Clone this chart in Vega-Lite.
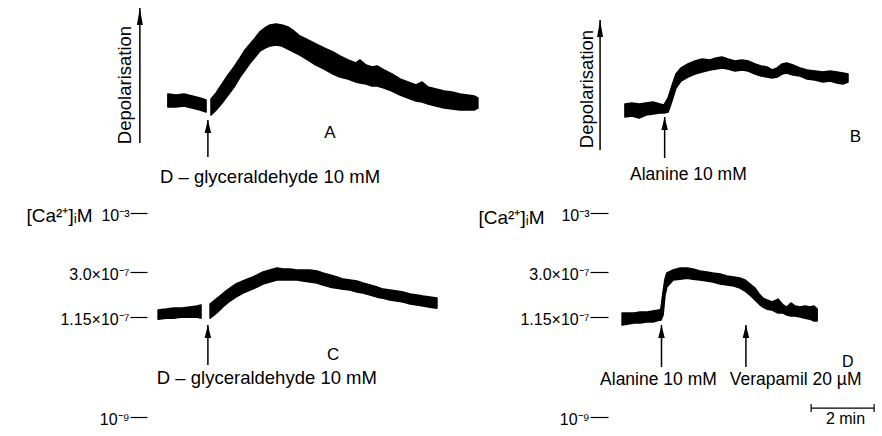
{
  "$schema": "https://vega.github.io/schema/vega-lite/v6.json",
  "padding": 0,
  "spacing": 0,
  "bounds": "flush",
  "columns": 2,
  "config": {
    "view": {"stroke": null},
    "font": "Liberation Sans",
    "text": {"font": "Liberation Sans", "color": "black"},
    "concat": {"spacing": 0}
  },
  "concat": [
    {
      "width": 441,
      "height": 190,
      "layer": [
        {
          "data": {"values": [
            {"t": -1.27, "hi": 0.6, "lo": -0.7, "seg": "pre"},
            {"t": -1.01, "hi": 0.5, "lo": -0.7, "seg": "pre"},
            {"t": -0.76, "hi": 0.6, "lo": -0.6, "seg": "pre"},
            {"t": -0.50, "hi": 0.4, "lo": -0.8, "seg": "pre"},
            {"t": -0.25, "hi": 0.2, "lo": -1.0, "seg": "pre"},
            {"t": -0.06, "hi": 0.0, "lo": -1.2, "seg": "pre"},
            {"t": 0.10, "hi": 0.1, "lo": -1.5, "seg": "post"},
            {"t": 0.26, "hi": 0.7, "lo": -1.0, "seg": "post"},
            {"t": 0.45, "hi": 1.6, "lo": -0.3, "seg": "post"},
            {"t": 0.64, "hi": 2.5, "lo": 0.5, "seg": "post"},
            {"t": 0.83, "hi": 3.3, "lo": 1.3, "seg": "post"},
            {"t": 1.02, "hi": 4.2, "lo": 2.3, "seg": "post"},
            {"t": 1.18, "hi": 5.0, "lo": 3.0, "seg": "post"},
            {"t": 1.34, "hi": 5.6, "lo": 3.7, "seg": "post"},
            {"t": 1.50, "hi": 6.2, "lo": 4.3, "seg": "post"},
            {"t": 1.65, "hi": 6.8, "lo": 4.9, "seg": "post"},
            {"t": 1.81, "hi": 7.2, "lo": 5.2, "seg": "post"},
            {"t": 1.97, "hi": 7.5, "lo": 5.4, "seg": "post"},
            {"t": 2.16, "hi": 7.6, "lo": 5.5, "seg": "post"},
            {"t": 2.35, "hi": 7.5, "lo": 5.4, "seg": "post"},
            {"t": 2.54, "hi": 7.3, "lo": 5.1, "seg": "post"},
            {"t": 2.73, "hi": 6.9, "lo": 4.8, "seg": "post"},
            {"t": 2.92, "hi": 6.4, "lo": 4.5, "seg": "post"},
            {"t": 3.18, "hi": 6.0, "lo": 4.0, "seg": "post"},
            {"t": 3.43, "hi": 5.6, "lo": 3.5, "seg": "post"},
            {"t": 3.69, "hi": 5.2, "lo": 3.1, "seg": "post"},
            {"t": 3.97, "hi": 4.8, "lo": 2.6, "seg": "post"},
            {"t": 4.19, "hi": 4.4, "lo": 2.3, "seg": "post"},
            {"t": 4.45, "hi": 4.0, "lo": 2.1, "seg": "post"},
            {"t": 4.70, "hi": 3.7, "lo": 1.8, "seg": "post"},
            {"t": 4.83, "hi": 4.0, "lo": 1.7, "seg": "post"},
            {"t": 5.02, "hi": 3.5, "lo": 1.6, "seg": "post"},
            {"t": 5.21, "hi": 3.3, "lo": 1.4, "seg": "post"},
            {"t": 5.37, "hi": 3.4, "lo": 1.4, "seg": "post"},
            {"t": 5.59, "hi": 3.0, "lo": 1.2, "seg": "post"},
            {"t": 5.84, "hi": 2.6, "lo": 0.9, "seg": "post"},
            {"t": 6.10, "hi": 2.1, "lo": 0.5, "seg": "post"},
            {"t": 6.35, "hi": 1.8, "lo": 0.2, "seg": "post"},
            {"t": 6.61, "hi": 1.5, "lo": -0.1, "seg": "post"},
            {"t": 6.80, "hi": 1.8, "lo": -0.2, "seg": "post"},
            {"t": 6.99, "hi": 1.3, "lo": -0.4, "seg": "post"},
            {"t": 7.24, "hi": 1.1, "lo": -0.6, "seg": "post"},
            {"t": 7.50, "hi": 0.9, "lo": -0.8, "seg": "post"},
            {"t": 7.75, "hi": 0.8, "lo": -0.9, "seg": "post"},
            {"t": 8.00, "hi": 0.6, "lo": -1.0, "seg": "post"},
            {"t": 8.23, "hi": 0.5, "lo": -1.0, "seg": "post"},
            {"t": 8.45, "hi": 0.4, "lo": -1.0, "seg": "post"},
            {"t": 8.57, "hi": 0.2, "lo": -0.8, "seg": "post"}
          ]},
          "mark": {"type": "area", "color": "black", "stroke": "black", "strokeWidth": 1.6, "strokeJoin": "round"},
          "encoding": {
            "x": {"field": "t", "type": "quantitative", "scale": {"domain": [-6.6, 7.4], "nice": false, "zero": false}, "axis": null},
            "y": {"field": "hi", "type": "quantitative", "scale": {"domain": [-9, 10], "nice": false, "zero": false}, "axis": null},
            "y2": {"field": "lo"},
            "detail": {"field": "seg"}
          }
        },
        {
          "data": {"values": [{"t": 0}]},
          "mark": {"type": "rule", "color": "black", "strokeWidth": 1.5},
          "encoding": {
            "x": {"field": "t", "type": "quantitative", "axis": null},
            "y": {"datum": -5.7, "type": "quantitative", "axis": null},
            "y2": {"datum": -2.0}
          }
        },
        {
          "data": {"values": [{"t": 0}]},
          "mark": {"type": "point", "shape": "M0,-1L0.5,1L-0.5,1Z", "size": 169, "filled": true, "color": "black", "opacity": 1, "yOffset": 6.5},
          "encoding": {
            "x": {"field": "t", "type": "quantitative", "axis": null},
            "y": {"datum": -2.0, "type": "quantitative", "axis": null}
          }
        },
        {
          "data": {"values": [{}]},
          "mark": {"type": "rule", "color": "black", "strokeWidth": 1.5},
          "encoding": {
            "x": {"datum": -2.16, "type": "quantitative", "axis": null},
            "y": {"datum": -4.3, "type": "quantitative", "axis": null},
            "y2": {"datum": 9.2}
          }
        },
        {
          "data": {"values": [{}]},
          "mark": {"type": "point", "shape": "M0,-1L0.35,1L-0.35,1Z", "size": 289, "filled": true, "color": "black", "opacity": 1, "yOffset": 8.5},
          "encoding": {
            "x": {"datum": -2.16, "type": "quantitative", "axis": null},
            "y": {"datum": 9.2, "type": "quantitative", "axis": null}
          }
        },
        {
          "data": {"values": [{"t": -2.63, "v": 1.5, "label": "Depolarisation"}]},
          "mark": {"type": "text", "angle": 270, "fontSize": 18.5, "align": "center", "baseline": "middle"},
          "encoding": {
            "x": {"field": "t", "type": "quantitative", "axis": null},
            "y": {"field": "v", "type": "quantitative", "axis": null},
            "text": {"field": "label"}
          }
        },
        {
          "data": {"values": [{"t": -1.52, "v": -8.3, "label": "D – glyceraldehyde 10 mM"}]},
          "mark": {"type": "text", "fontSize": 18.5, "align": "left", "baseline": "alphabetic"},
          "encoding": {
            "x": {"field": "t", "type": "quantitative", "axis": null},
            "y": {"field": "v", "type": "quantitative", "axis": null},
            "text": {"field": "label"}
          }
        },
        {
          "data": {"values": [{"t": 3.69, "v": -3.8, "label": "A"}]},
          "mark": {"type": "text", "fontSize": 17, "align": "left", "baseline": "alphabetic"},
          "encoding": {
            "x": {"field": "t", "type": "quantitative", "axis": null},
            "y": {"field": "v", "type": "quantitative", "axis": null},
            "text": {"field": "label"}
          }
        }
      ]
    },
    {
      "width": 441,
      "height": 190,
      "layer": [
        {
          "data": {"values": [
            {"t": -1.26, "hi": -0.4, "lo": -1.7},
            {"t": -1.04, "hi": -0.3, "lo": -1.6},
            {"t": -0.81, "hi": -0.4, "lo": -1.8},
            {"t": -0.59, "hi": -0.3, "lo": -1.5},
            {"t": -0.37, "hi": -0.2, "lo": -1.4},
            {"t": -0.15, "hi": -0.4, "lo": -1.3},
            {"t": -0.02, "hi": -0.5, "lo": -1.3},
            {"t": 0.11, "hi": 0.2, "lo": -1.2},
            {"t": 0.23, "hi": 1.4, "lo": -0.1},
            {"t": 0.36, "hi": 2.6, "lo": 1.2},
            {"t": 0.52, "hi": 3.2, "lo": 1.9},
            {"t": 0.74, "hi": 3.6, "lo": 2.3},
            {"t": 0.96, "hi": 3.9, "lo": 2.6},
            {"t": 1.19, "hi": 4.1, "lo": 2.8},
            {"t": 1.44, "hi": 4.0, "lo": 3.0},
            {"t": 1.63, "hi": 4.2, "lo": 3.1},
            {"t": 1.82, "hi": 4.3, "lo": 3.2},
            {"t": 2.01, "hi": 4.1, "lo": 3.1},
            {"t": 2.23, "hi": 3.9, "lo": 2.9},
            {"t": 2.46, "hi": 4.0, "lo": 3.0},
            {"t": 2.65, "hi": 3.9, "lo": 2.9},
            {"t": 2.87, "hi": 3.6, "lo": 2.6},
            {"t": 3.06, "hi": 3.4, "lo": 2.4},
            {"t": 3.25, "hi": 3.3, "lo": 2.3},
            {"t": 3.41, "hi": 3.0, "lo": 2.2},
            {"t": 3.57, "hi": 3.2, "lo": 2.3},
            {"t": 3.73, "hi": 3.6, "lo": 2.6},
            {"t": 3.88, "hi": 3.7, "lo": 2.7},
            {"t": 4.07, "hi": 3.5, "lo": 2.5},
            {"t": 4.30, "hi": 3.2, "lo": 2.4},
            {"t": 4.52, "hi": 3.0, "lo": 2.1},
            {"t": 4.77, "hi": 2.9, "lo": 2.0},
            {"t": 5.03, "hi": 2.8, "lo": 1.8},
            {"t": 5.25, "hi": 2.9, "lo": 1.9},
            {"t": 5.47, "hi": 2.8, "lo": 1.7},
            {"t": 5.66, "hi": 2.7, "lo": 1.6},
            {"t": 5.82, "hi": 2.6, "lo": 1.8}
          ]},
          "mark": {"type": "area", "color": "black", "stroke": "black", "strokeWidth": 1.6, "strokeJoin": "round"},
          "encoding": {
            "x": {"field": "t", "type": "quantitative", "scale": {"domain": [-7.1, 6.9], "nice": false, "zero": false}, "axis": null},
            "y": {"field": "hi", "type": "quantitative", "scale": {"domain": [-9, 10], "nice": false, "zero": false}, "axis": null},
            "y2": {"field": "lo"}
          }
        },
        {
          "data": {"values": [{"t": 0}]},
          "mark": {"type": "rule", "color": "black", "strokeWidth": 1.5},
          "encoding": {
            "x": {"field": "t", "type": "quantitative", "axis": null},
            "y": {"datum": -5.8, "type": "quantitative", "axis": null},
            "y2": {"datum": -1.7}
          }
        },
        {
          "data": {"values": [{"t": 0}]},
          "mark": {"type": "point", "shape": "M0,-1L0.5,1L-0.5,1Z", "size": 169, "filled": true, "color": "black", "opacity": 1, "yOffset": 6.5},
          "encoding": {
            "x": {"field": "t", "type": "quantitative", "axis": null},
            "y": {"datum": -1.7, "type": "quantitative", "axis": null}
          }
        },
        {
          "data": {"values": [{}]},
          "mark": {"type": "rule", "color": "black", "strokeWidth": 1.5},
          "encoding": {
            "x": {"datum": -2.05, "type": "quantitative", "axis": null},
            "y": {"datum": -5.0, "type": "quantitative", "axis": null},
            "y2": {"datum": 8.0}
          }
        },
        {
          "data": {"values": [{}]},
          "mark": {"type": "point", "shape": "M0,-1L0.35,1L-0.35,1Z", "size": 289, "filled": true, "color": "black", "opacity": 1, "yOffset": 8.5},
          "encoding": {
            "x": {"datum": -2.05, "type": "quantitative", "axis": null},
            "y": {"datum": 8.0, "type": "quantitative", "axis": null}
          }
        },
        {
          "data": {"values": [{"t": -2.47, "v": 1.1, "label": "Depolarisation"}]},
          "mark": {"type": "text", "angle": 270, "fontSize": 18.5, "align": "center", "baseline": "middle"},
          "encoding": {
            "x": {"field": "t", "type": "quantitative", "axis": null},
            "y": {"field": "v", "type": "quantitative", "axis": null},
            "text": {"field": "label"}
          }
        },
        {
          "data": {"values": [{"t": -1.10, "v": -8.0, "label": "Alanine 10 mM"}]},
          "mark": {"type": "text", "fontSize": 17.5, "align": "left", "baseline": "alphabetic"},
          "encoding": {
            "x": {"field": "t", "type": "quantitative", "axis": null},
            "y": {"field": "v", "type": "quantitative", "axis": null},
            "text": {"field": "label"}
          }
        },
        {
          "data": {"values": [{"t": 5.88, "v": -4.2, "label": "B"}]},
          "mark": {"type": "text", "fontSize": 17, "align": "left", "baseline": "alphabetic"},
          "encoding": {
            "x": {"field": "t", "type": "quantitative", "axis": null},
            "y": {"field": "v", "type": "quantitative", "axis": null},
            "text": {"field": "label"}
          }
        }
      ]
    },
    {
      "width": 441,
      "height": 246,
      "layer": [
        {
          "data": {"values": [
            {"t": -1.58, "hi": 52.5, "lo": 48.0, "seg": "pre"},
            {"t": -1.33, "hi": 52.9, "lo": 48.5, "seg": "pre"},
            {"t": -1.08, "hi": 53.4, "lo": 48.5, "seg": "pre"},
            {"t": -0.82, "hi": 53.4, "lo": 49.0, "seg": "pre"},
            {"t": -0.57, "hi": 53.9, "lo": 49.0, "seg": "pre"},
            {"t": -0.35, "hi": 54.4, "lo": 49.0, "seg": "pre"},
            {"t": -0.22, "hi": 54.9, "lo": 48.5, "seg": "pre"},
            {"t": 0.07, "hi": 55.4, "lo": 48.5, "seg": "post"},
            {"t": 0.23, "hi": 57.4, "lo": 50.5, "seg": "post"},
            {"t": 0.38, "hi": 59.3, "lo": 52.5, "seg": "post"},
            {"t": 0.54, "hi": 61.3, "lo": 54.9, "seg": "post"},
            {"t": 0.70, "hi": 63.2, "lo": 56.9, "seg": "post"},
            {"t": 0.89, "hi": 65.2, "lo": 58.8, "seg": "post"},
            {"t": 1.11, "hi": 66.7, "lo": 60.8, "seg": "post"},
            {"t": 1.34, "hi": 68.1, "lo": 62.3, "seg": "post"},
            {"t": 1.56, "hi": 69.6, "lo": 63.7, "seg": "post"},
            {"t": 1.75, "hi": 71.1, "lo": 65.2, "seg": "post"},
            {"t": 1.97, "hi": 72.1, "lo": 66.2, "seg": "post"},
            {"t": 2.19, "hi": 73.0, "lo": 67.2, "seg": "post"},
            {"t": 2.38, "hi": 72.5, "lo": 67.2, "seg": "post"},
            {"t": 2.61, "hi": 72.5, "lo": 67.2, "seg": "post"},
            {"t": 2.83, "hi": 72.1, "lo": 67.2, "seg": "post"},
            {"t": 3.02, "hi": 72.1, "lo": 66.7, "seg": "post"},
            {"t": 3.24, "hi": 72.1, "lo": 66.2, "seg": "post"},
            {"t": 3.46, "hi": 71.6, "lo": 65.7, "seg": "post"},
            {"t": 3.65, "hi": 70.6, "lo": 64.7, "seg": "post"},
            {"t": 3.88, "hi": 69.6, "lo": 63.7, "seg": "post"},
            {"t": 4.10, "hi": 68.6, "lo": 63.2, "seg": "post"},
            {"t": 4.29, "hi": 67.6, "lo": 62.7, "seg": "post"},
            {"t": 4.51, "hi": 67.2, "lo": 62.3, "seg": "post"},
            {"t": 4.73, "hi": 66.7, "lo": 61.3, "seg": "post"},
            {"t": 4.92, "hi": 65.7, "lo": 60.8, "seg": "post"},
            {"t": 5.15, "hi": 64.7, "lo": 59.8, "seg": "post"},
            {"t": 5.37, "hi": 63.7, "lo": 58.8, "seg": "post"},
            {"t": 5.56, "hi": 62.7, "lo": 58.3, "seg": "post"},
            {"t": 5.78, "hi": 62.3, "lo": 57.4, "seg": "post"},
            {"t": 6.00, "hi": 61.8, "lo": 56.9, "seg": "post"},
            {"t": 6.19, "hi": 61.3, "lo": 56.4, "seg": "post"},
            {"t": 6.42, "hi": 60.3, "lo": 55.4, "seg": "post"},
            {"t": 6.64, "hi": 59.8, "lo": 54.9, "seg": "post"},
            {"t": 6.83, "hi": 59.3, "lo": 54.4, "seg": "post"},
            {"t": 7.05, "hi": 58.8, "lo": 53.9, "seg": "post"},
            {"t": 7.27, "hi": 58.3, "lo": 53.4, "seg": "post"}
          ]},
          "mark": {"type": "area", "color": "black", "stroke": "black", "strokeWidth": 1.6, "strokeJoin": "round"},
          "encoding": {
            "x": {"field": "t", "type": "quantitative", "scale": {"domain": [-6.6, 7.4], "nice": false, "zero": false}, "axis": null},
            "y": {
              "field": "hi", "type": "quantitative",
              "scale": {"domain": [-9.3, 111.3], "nice": false, "zero": false},
              "axis": {
                "orient": "left", "offset": -147, "values": [0, 49, 71, 100],
                "labelExpr": "datum.value == 100 ? '10⁻³' : datum.value == 71 ? '3.0×10⁻⁷' : datum.value == 49 ? '1.15×10⁻⁷' : '10⁻⁹'",
                "domain": false, "grid": false, "ticks": true, "tickSize": 17, "tickWidth": 1.2, "tickColor": "black",
                "labelFont": "Liberation Sans", "labelFontSize": 16, "labelColor": "black", "labelPadding": 1, "labelOffset": 2,
                "title": "[Ca²⁺]ᵢM", "titleAngle": 0, "titleX": -55, "titleY": 25, "titleAlign": "right", "titleBaseline": "middle",
                "titleFont": "Liberation Sans", "titleFontSize": 19, "titleFontWeight": "normal", "titleColor": "black"
              }
            },
            "y2": {"field": "lo"},
            "detail": {"field": "seg"}
          }
        },
        {
          "data": {"values": [{"t": 0}]},
          "mark": {"type": "rule", "color": "black", "strokeWidth": 1.5},
          "encoding": {
            "x": {"field": "t", "type": "quantitative", "axis": null},
            "y": {"datum": 25.5, "type": "quantitative"},
            "y2": {"datum": 45.1}
          }
        },
        {
          "data": {"values": [{"t": 0}]},
          "mark": {"type": "point", "shape": "M0,-1L0.5,1L-0.5,1Z", "size": 169, "filled": true, "color": "black", "opacity": 1, "yOffset": 6.5},
          "encoding": {
            "x": {"field": "t", "type": "quantitative", "axis": null},
            "y": {"datum": 45.1, "type": "quantitative"}
          }
        },
        {
          "data": {"values": [{"t": -1.62, "u": 16.2, "label": "D – glyceraldehyde 10 mM"}]},
          "mark": {"type": "text", "fontSize": 18.5, "align": "left", "baseline": "alphabetic"},
          "encoding": {
            "x": {"field": "t", "type": "quantitative", "axis": null},
            "y": {"field": "u", "type": "quantitative"},
            "text": {"field": "label"}
          }
        },
        {
          "data": {"values": [{"t": 3.78, "u": 27.9, "label": "C"}]},
          "mark": {"type": "text", "fontSize": 17, "align": "left", "baseline": "alphabetic"},
          "encoding": {
            "x": {"field": "t", "type": "quantitative", "axis": null},
            "y": {"field": "u", "type": "quantitative"},
            "text": {"field": "label"}
          }
        }
      ]
    },
    {
      "width": 441,
      "height": 246,
      "layer": [
        {
          "data": {"values": [
            {"t": -1.25, "hi": 51.0, "lo": 45.1},
            {"t": -1.06, "hi": 51.0, "lo": 45.6},
            {"t": -0.87, "hi": 51.0, "lo": 46.1},
            {"t": -0.68, "hi": 51.5, "lo": 46.1},
            {"t": -0.46, "hi": 51.5, "lo": 46.6},
            {"t": -0.27, "hi": 52.0, "lo": 46.6},
            {"t": -0.08, "hi": 52.5, "lo": 47.5},
            {"t": -0.02, "hi": 52.9, "lo": 47.5},
            {"t": 0.05, "hi": 61.3, "lo": 50.0},
            {"t": 0.11, "hi": 67.6, "lo": 59.8},
            {"t": 0.17, "hi": 70.6, "lo": 63.7},
            {"t": 0.37, "hi": 72.1, "lo": 67.2},
            {"t": 0.59, "hi": 73.0, "lo": 67.6},
            {"t": 0.81, "hi": 73.0, "lo": 68.1},
            {"t": 1.00, "hi": 72.5, "lo": 67.6},
            {"t": 1.22, "hi": 71.6, "lo": 67.2},
            {"t": 1.44, "hi": 71.1, "lo": 66.7},
            {"t": 1.63, "hi": 70.6, "lo": 66.2},
            {"t": 1.86, "hi": 70.1, "lo": 65.2},
            {"t": 2.08, "hi": 69.1, "lo": 64.7},
            {"t": 2.30, "hi": 68.6, "lo": 64.2},
            {"t": 2.49, "hi": 68.1, "lo": 63.2},
            {"t": 2.65, "hi": 67.2, "lo": 61.8},
            {"t": 2.81, "hi": 65.2, "lo": 59.8},
            {"t": 2.97, "hi": 63.2, "lo": 57.4},
            {"t": 3.10, "hi": 60.3, "lo": 55.4},
            {"t": 3.22, "hi": 58.3, "lo": 53.9},
            {"t": 3.35, "hi": 57.4, "lo": 52.9},
            {"t": 3.51, "hi": 56.4, "lo": 52.5},
            {"t": 3.70, "hi": 57.8, "lo": 51.0},
            {"t": 3.86, "hi": 54.9, "lo": 51.0},
            {"t": 3.98, "hi": 53.9, "lo": 50.0},
            {"t": 4.11, "hi": 55.9, "lo": 49.5},
            {"t": 4.24, "hi": 54.4, "lo": 49.5},
            {"t": 4.40, "hi": 53.9, "lo": 49.0},
            {"t": 4.56, "hi": 54.4, "lo": 48.5},
            {"t": 4.71, "hi": 53.9, "lo": 48.0},
            {"t": 4.84, "hi": 54.4, "lo": 47.1},
            {"t": 4.94, "hi": 52.9, "lo": 47.1}
          ]},
          "mark": {"type": "area", "color": "black", "stroke": "black", "strokeWidth": 1.6, "strokeJoin": "round"},
          "encoding": {
            "x": {"field": "t", "type": "quantitative", "scale": {"domain": [-7, 7], "nice": false, "zero": false}, "axis": null},
            "y": {
              "field": "hi", "type": "quantitative",
              "scale": {"domain": [-9.3, 111.3], "nice": false, "zero": false},
              "axis": {
                "orient": "left", "offset": -167, "values": [0, 49, 71, 100],
                "labelExpr": "datum.value == 100 ? '10⁻³' : datum.value == 71 ? '3.0×10⁻⁷' : datum.value == 49 ? '1.15×10⁻⁷' : '10⁻⁹'",
                "domain": false, "grid": false, "ticks": true, "tickSize": 18, "tickWidth": 1.2, "tickColor": "black",
                "labelFont": "Liberation Sans", "labelFontSize": 16, "labelColor": "black", "labelPadding": 1, "labelOffset": 2,
                "title": "[Ca²⁺]ᵢM", "titleAngle": 0, "titleX": -64, "titleY": 27, "titleAlign": "right", "titleBaseline": "middle",
                "titleFont": "Liberation Sans", "titleFontSize": 19, "titleFontWeight": "normal", "titleColor": "black"
              }
            },
            "y2": {"field": "lo"}
          }
        },
        {
          "data": {"values": [{"t": 0}, {"t": 2.68}]},
          "mark": {"type": "rule", "color": "black", "strokeWidth": 1.5},
          "encoding": {
            "x": {"field": "t", "type": "quantitative", "axis": null},
            "y": {"datum": 24.5, "type": "quantitative"},
            "y2": {"datum": 45.1}
          }
        },
        {
          "data": {"values": [{"t": 0}, {"t": 2.68}]},
          "mark": {"type": "point", "shape": "M0,-1L0.5,1L-0.5,1Z", "size": 169, "filled": true, "color": "black", "opacity": 1, "yOffset": 6.5},
          "encoding": {
            "x": {"field": "t", "type": "quantitative", "axis": null},
            "y": {"datum": 45.1, "type": "quantitative"}
          }
        },
        {
          "data": {"values": [{"t": 4.75, "t2": 6.75}]},
          "mark": {"type": "rule", "color": "black", "strokeWidth": 1.2},
          "encoding": {
            "x": {"field": "t", "type": "quantitative", "axis": null},
            "x2": {"field": "t2"},
            "y": {"datum": 4.4, "type": "quantitative"}
          }
        },
        {
          "data": {"values": [{"t": 4.75}, {"t": 6.75}]},
          "mark": {"type": "rule", "color": "black", "strokeWidth": 1.2},
          "encoding": {
            "x": {"field": "t", "type": "quantitative", "axis": null},
            "y": {"datum": 2.5, "type": "quantitative"},
            "y2": {"datum": 6.4}
          }
        },
        {
          "data": {"values": [
            {"t": -1.95, "u": 15.7, "label": "Alanine 10 mM"},
            {"t": 2.17, "u": 15.7, "label": "Verapamil 20 µM"}
          ]},
          "mark": {"type": "text", "fontSize": 17.5, "align": "left", "baseline": "alphabetic"},
          "encoding": {
            "x": {"field": "t", "type": "quantitative", "axis": null},
            "y": {"field": "u", "type": "quantitative"},
            "text": {"field": "label"}
          }
        },
        {
          "data": {"values": [
            {"t": 5.73, "u": 24.5, "label": "D"},
            {"t": 5.22, "u": -3.4, "label": "2 min"}
          ]},
          "mark": {"type": "text", "fontSize": 16, "align": "left", "baseline": "alphabetic"},
          "encoding": {
            "x": {"field": "t", "type": "quantitative", "axis": null},
            "y": {"field": "u", "type": "quantitative"},
            "text": {"field": "label"}
          }
        }
      ]
    }
  ]
}
